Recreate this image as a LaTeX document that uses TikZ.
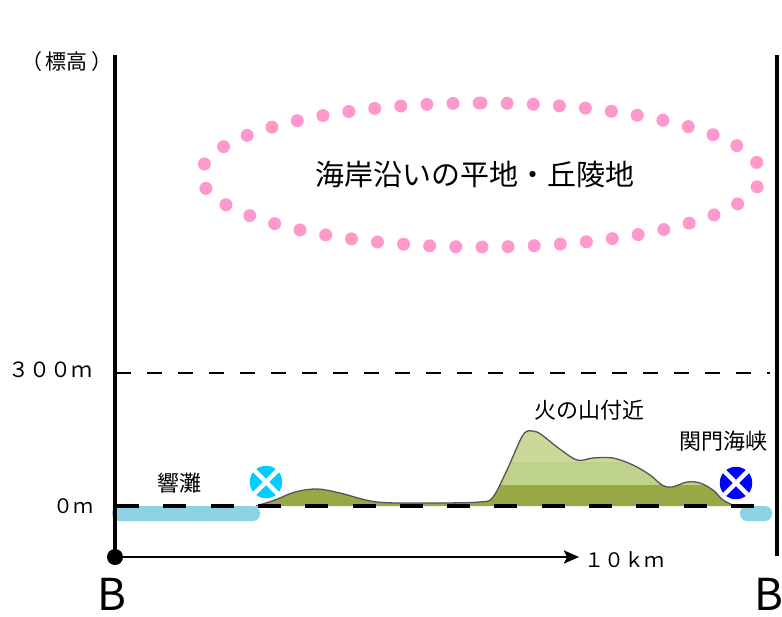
\documentclass[tikz,border=0pt]{standalone}
\usepackage{fontspec}
\setmainfont{Noto Sans CJK JP}
\usetikzlibrary{arrows.meta,calc}
\definecolor{dotpink}{HTML}{FF99CC}
\definecolor{sea}{HTML}{8AD2E4}
\definecolor{hilldark}{HTML}{98A845}
\definecolor{hillmid}{HTML}{BFD28B}
\definecolor{hilllight}{HTML}{C9DA98}
\definecolor{hillline}{HTML}{555555}
\definecolor{markcyan}{HTML}{00CCFF}
\definecolor{markblue}{HTML}{0000FF}
\tikzset{
  axisline/.style={line width=4pt},
  lbl/.style={inner sep=0pt, font=\fontsize{20}{22}\selectfont},
  jlbl/.style={inner sep=0pt, font=\fontsize{22}{24}\selectfont},
  seaband/.style={fill=sea, rounded corners=7pt},
}
\newcommand{\crossmark}[2]{%
  \fill[#2] (#1) circle[radius=16.5];
  \begin{scope}
    \clip (#1) circle[radius=16.5];
    \draw[white, line width=4.5pt] ($(#1)+(-14,-14)$) -- ($(#1)+(14,14)$);
    \draw[white, line width=4.5pt] ($(#1)+(-14,14)$) -- ($(#1)+(14,-14)$);
  \end{scope}
  \draw[white, line width=1.5pt] (#1) circle[radius=17.2];
}
\begin{document}
\begin{tikzpicture}[x=1pt, y=-1pt]
\useasboundingbox (0,0) rectangle (782,616);
\fill[white] (0,0) rectangle (782,616);

% dotted oval with its caption
\draw[dotpink, line width=13pt, line cap=round, dash pattern=on 0pt off 26.15pt]
  (481,103) arc[start angle=-90, end angle=270, x radius=280, y radius=72];
\node[inner sep=0pt, font=\fontsize{29}{31}\selectfont] (plain) at (475,174) {海岸沿いの平地・丘陵地};

% sea
\fill[seaband] (112,506) rectangle (260,521);
\fill[seaband] (740,506) rectangle (772,521);

% terrain profile
\def\terrain{plot[smooth, tension=0.55] coordinates {(256,506) (275,500) (295,492) (317,489) (340,493) (377,502) (430,503) (480,502) (493,497) (507,470) (523,435) (533,431) (542,435) (557,447) (577,460) (593,458) (613,458) (633,465) (650,475) (662,485) (672,487) (687,482) (700,483) (713,490) (723,500) (735,506)}}
\fill[hilldark] \terrain -- cycle;
\begin{scope}
  \clip \terrain -- cycle;
  \fill[hillmid] (250,400) rectangle (740,485);
  \fill[hilllight] (250,400) rectangle (740,462);
\end{scope}
\draw[hillline, line width=1.3pt] \terrain;

% reference levels
\draw[line width=1.1pt, dash pattern=on 15pt off 16pt] (116,373) -- (770,373);
\draw[line width=4pt, dash pattern=on 23pt off 24.3pt] (116,506) -- (762,506);

% axes
\draw[axisline] (115,55) -- (115,557);
\draw[axisline] (777,55) -- (777,556);
\fill (115,557) circle[radius=8];
\coordinate (xend) at (579,557);
\draw[line width=2.5pt, -{Stealth[length=15pt, width=13pt, inset=3pt]}] (115,557) -- (xend);

% markers
\crossmark{266,482}{markcyan}
\crossmark{736,483}{markblue}

% labels
\node[inner sep=0pt, font=\fontsize{21}{23}\selectfont] (elev) at (67,62) {（\kern4pt 標高\kern4pt ）};
\node[inner sep=0pt, font=\fontsize{21}{23}\selectfont] (h300) at (51,370) {３００ｍ};
\node[lbl] (h0) at (73,506) {０ｍ};
\node[lbl, anchor=west] (dist) at (584,560) {１０ｋｍ};
\node[inner sep=0pt, font=\fontsize{44}{46}\selectfont] (bl) at (112,594) {B};
\node[inner sep=0pt, font=\fontsize{44}{46}\selectfont] (br) at (769,594) {B};
\node[jlbl] (hibiki) at (179,483) {響灘};
\node[jlbl] (hinoyama) at (589,410) {火の山付近};
\node[jlbl] (kanmon) at (723,441) {関門海峡};
\end{tikzpicture}
\end{document}
